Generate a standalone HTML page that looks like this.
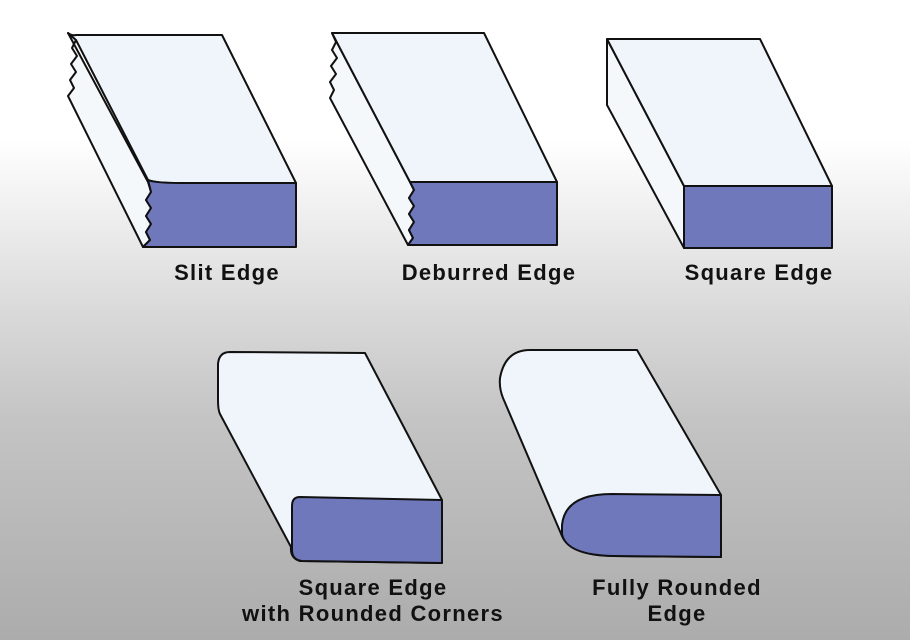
<!DOCTYPE html>
<html><head><style>
html,body{margin:0;padding:0}
body{width:910px;height:640px;overflow:hidden;background:linear-gradient(to bottom,#fff 0px,#fff 140px,#dcdcdc 300px,#c4c4c4 420px,#acacac 640px)}
svg{position:absolute;left:0;top:0}
text{font-family:"Liberation Sans",sans-serif;font-weight:bold;font-size:22px;fill:#111;letter-spacing:1.3px}
</style></head><body>
<svg width="910" height="640" viewBox="0 0 910 640">
<g stroke="#111" stroke-width="2" stroke-linejoin="round">
<path d="M68,33 L76,40 L72,48 L77,56 L71,64 L76,72 L70,80 L74,88 L68,96 L143,247 L150,240 L146,232 L151,224 L146,216 L151,208 L146,200 L151,192 L148,182 Z" fill="#f5f8fb"/>
<path d="M68,33 Q72,36 76,35 L222,35 L296,183 L180,183 Q155,183 148,180 L76,40 Z" fill="#eff5fa"/>
<path d="M148,180 Q155,183 180,183 L296,183 L296,247 L143,247 L150,240 L146,232 L151,224 L146,216 L151,208 L146,200 L151,192 Z" fill="#6e78bb"/>
<path d="M332,33 L336,42 L332,50 L337,58 L331,66 L336,74 L330,82 L334,90 L330,98 L408,245 L413,238 L409,230 L414,222 L409,214 L414,206 L409,198 L414,190 L410,182 Z" fill="#f5f8fb"/>
<path d="M332,33 L484,33 L557,182 L410,182 Z" fill="#eff5fa"/>
<path d="M410,182 L557,182 L557,245 L408,245 L413,238 L409,230 L414,222 L409,214 L414,206 L409,198 L414,190 Z" fill="#6e78bb"/>
<path d="M607,39 L607,105 L684,248 L684,186 Z" fill="#f5f8fb"/>
<path d="M607,39 L760,39 L832,186 L684,186 Z" fill="#eff5fa"/>
<path d="M684,186 L832,186 L832,248 L684,248 Z" fill="#6e78bb"/>
<path d="M230,352 L365,353 L442,500 L442,563 L300,561 Q290,558 291,547 L220,414 Q218,410 218,400 L218,364 Q219,352 230,352 Z" fill="#eff5fa"/>
<path d="M300,497 L442,500 L442,563 L302,561 Q292,560 292,550 L292,506 Q292,497 300,497 Z" fill="#6e78bb"/>
<path d="M530,350 L637,350 L721,495 L721,557 L612,556 Q570,555 562,536 L503,398 Q499,388 500,378 Q505,350 530,350 Z" fill="#eff5fa"/>
<path d="M612,494 L721,495 L721,557 L614,556 Q566,555 562,534 L562,525 Q565,494 612,494 Z" fill="#6e78bb"/>
</g>
<text x="227" y="280" text-anchor="middle">Slit Edge</text>
<text x="489" y="280" text-anchor="middle">Deburred Edge</text>
<text x="759" y="280" text-anchor="middle">Square Edge</text>
<text x="373" y="595" text-anchor="middle">Square Edge</text>
<text x="373" y="621" text-anchor="middle">with Rounded Corners</text>
<text x="677" y="595" text-anchor="middle">Fully Rounded</text>
<text x="677" y="621" text-anchor="middle">Edge</text>
</svg>
</body></html>
